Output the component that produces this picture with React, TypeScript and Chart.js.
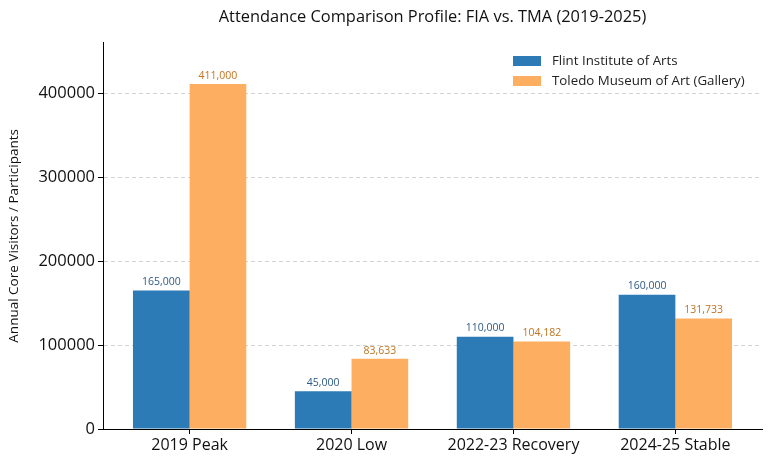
import { useEffect, useRef } from "react"
import { Chart, registerables } from "chart.js"

Chart.register(...registerables)

const categories = ["2019 Peak", "2020 Low", "2022-23 Recovery", "2024-25 Stable"]
const fiaValues = [165000, 45000, 110000, 160000]
const tmaValues = [411000, 83633, 104182, 131733]
const seriesNames = ["Flint Institute of Arts", "Toledo Museum of Art (Gallery)"]
const yTicks = [0, 100000, 200000, 300000, 400000]

const FONT = "'Open Sans', sans-serif"
const BLUE = "#2c7bb6"
const ORANGE = "#fdae61"
const BLUE_TEXT = "#2f5a85"
const ORANGE_TEXT = "#c0741f"

// 柱顶数值标签
const valueLabels = {
  id: "valueLabels",
  afterDatasetsDraw(chart: Chart) {
    const ctx = chart.ctx
    ctx.save()
    ctx.font = `10.5px ${FONT}`
    ctx.textAlign = "center"
    ctx.textBaseline = "bottom"
    chart.data.datasets.forEach((ds, di) => {
      const meta = chart.getDatasetMeta(di)
      ctx.fillStyle = di === 0 ? BLUE_TEXT : ORANGE_TEXT
      meta.data.forEach((bar: any, i) => {
        const v = (ds.data[i] as any).y as number
        ctx.fillText(v.toLocaleString("en-US"), bar.x, bar.y - 3)
      })
    })
    ctx.restore()
  },
}

// 图例（画在绘图区右上角）
const cornerLegend = {
  id: "cornerLegend",
  afterDraw(chart: Chart) {
    const ctx = chart.ctx
    const colors = [BLUE, ORANGE]
    ctx.save()
    ctx.font = `13.3px ${FONT}`
    ctx.textBaseline = "middle"
    ctx.textAlign = "left"
    seriesNames.forEach((name, i) => {
      const y = 61 + i * 20
      ctx.fillStyle = colors[i]
      ctx.fillRect(513, y - 5, 28, 10)
      ctx.fillStyle = "#222"
      ctx.fillText(name, 552, y)
    })
    ctx.restore()
  },
}

export default function App() {
  const chartRef = useRef<HTMLCanvasElement>(null)
  const chartInstance = useRef<Chart | null>(null)

  useEffect(() => {
    if (!chartRef.current) return
    if (chartInstance.current) chartInstance.current.destroy()

    const ctx = chartRef.current.getContext("2d")
    if (!ctx) return

    chartInstance.current = new Chart(ctx, {
      type: "bar",
      data: {
        datasets: [
          {
            label: seriesNames[0],
            data: fiaValues.map((v, i) => ({ x: i, y: v })),
            backgroundColor: BLUE,
          },
          {
            label: seriesNames[1],
            data: tmaValues.map((v, i) => ({ x: i, y: v })),
            backgroundColor: ORANGE,
          },
        ],
      },
      options: {
        animation: false,
        responsive: true,
        maintainAspectRatio: false,
        datasets: {
          bar: { barPercentage: 1, categoryPercentage: 0.7, borderWidth: 0 },
        },
        layout: { padding: { top: 2, right: 9, bottom: 0, left: 0 } },
        plugins: {
          legend: { display: false },
          tooltip: { enabled: false },
          title: {
            display: true,
            text: "Attendance Comparison Profile: FIA vs. TMA (2019-2025)",
            fullSize: false,
            color: "#111",
            font: { family: FONT, size: 16.4, weight: "normal" },
            padding: { top: 5, bottom: 16 },
          },
        },
        scales: {
          x: {
            type: "linear",
            offset: false,
            min: -0.535,
            max: 3.535,
            afterBuildTicks: (scale: any) => {
              scale.ticks = categories.map((_, i) => ({ value: i }))
            },
            afterFit: (scale: any) => {
              scale.height = 35
            },
            ticks: {
              stepSize: 1,
              includeBounds: false,
              autoSkip: false,
              maxRotation: 0,
              padding: 2,
              color: "#111",
              font: { family: FONT, size: 16 },
              callback: (v) => categories[Number(v)] ?? "",
            },
            grid: {
              offset: false,
              drawOnChartArea: false,
              tickLength: 5,
              tickColor: "#000",
            },
            border: { color: "#000", width: 1 },
          },
          y: {
            min: 0,
            max: 460320,
            afterBuildTicks: (scale: any) => {
              scale.ticks = yTicks.map((v) => ({ value: v }))
            },
            afterFit: (scale: any) => {
              scale.width = 103
            },
            ticks: {
              stepSize: 100000,
              includeBounds: false,
              padding: 3,
              color: "#111",
              font: { family: FONT, size: 16.5 },
              callback: (v) => String(v),
            },
            grid: {
              color: "#d3d3d3",
              tickLength: 5,
              tickColor: "#000",
              tickBorderDash: [],
            },
            border: { color: "#000", width: 1, dash: [4, 3] },
            title: {
              display: true,
              text: "Annual Core Visitors / Participants",
              color: "#111",
              font: { family: FONT, size: 13.5 },
              padding: { top: 6, bottom: 0 },
            },
          },
        },
      },
      plugins: [valueLabels, cornerLegend],
    })

    return () => {
      if (chartInstance.current) {
        chartInstance.current.destroy()
        chartInstance.current = null
      }
    }
  }, [])

  return (
    <div style={{ position: "fixed", left: 0, top: 0, width: 771, height: 464, background: "#fff" }}>
      <canvas ref={chartRef} />
    </div>
  )
}
